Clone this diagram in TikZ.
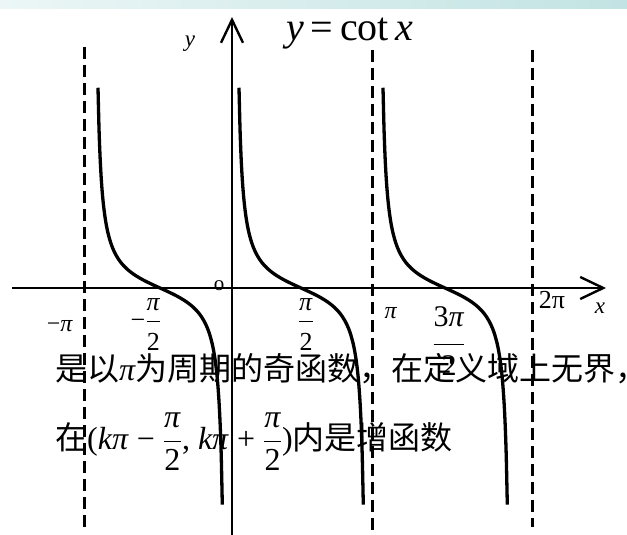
\RequirePackage{fix-cm}
\documentclass[tikz,border=0pt]{standalone}
\usepackage{amsmath}
\usepackage{fontspec}
\setmainfont{Liberation Serif}
\newfontfamily\cjk{Noto Sans CJK SC}
\usetikzlibrary{arrows.meta}
\definecolor{barleft}{RGB}{236,246,246}
\definecolor{barright}{RGB}{194,227,227}
\newcommand\fs[1]{\fontsize{#1}{#1}\selectfont}
% fraction: raise of numerator, strut of denominator, numerator, denominator
\newcommand\pifrac[4]{$\dfrac{\text{\raisebox{#1}{#3}}}{\text{\rule{0pt}{#2}#4}}$}
\begin{document}
\begin{tikzpicture}[x=1pt, y=-1pt]
    \tikzset{
        axis/.style={line width=2.4pt, -{Straight Barb[length=23pt, width=22pt]}},
        asymptote/.style={line width=3pt, dash pattern=on 12pt off 6pt},
        branch/.style={line width=3.3pt, line join=round},
        lbl/.style={inner sep=0pt}
    }
    \useasboundingbox (0,0) rectangle (627,535);

    % band across the top
    \shade[left color=barleft, right color=barright] (0,0) rectangle (627,9);

    % axes
    \coordinate (xstart) at (12,288);
    \coordinate (xend) at (606,288);
    \coordinate (ystart) at (232,535);
    \coordinate (yend) at (232,17);
    \draw[axis] (xstart) -- (xend);
    \draw[axis] (ystart) -- (yend);

    % asymptotes at -pi, pi, 2pi
    \foreach \name/\px/\top/\bot in {mpi/84/47/527, pi/372/50/530, tpi/532/50/527} {
        \coordinate (\name top) at (\px,\top);
        \coordinate (\name bot) at (\px,\bot);
        \draw[asymptote] (\name top) -- (\name bot);
    }

    % three branches of the curve
    \foreach \c in {160,301,445} {
        \draw[branch] plot[domain=-62:62.3, samples=120, smooth] ({\c+\x},{288+19*tan(deg(\x/42))});
    }

    % labels
    \node[lbl, font=\fs{40}, anchor=base] (title) at (350,41) {\textit{y}\,=\,cot\,\textit{x}};
    \node[lbl, font=\fs{23}, anchor=base] (ylbl) at (190,47) {\textit{y}};
    \node[lbl, font=\fs{23}, anchor=base] (xlbl) at (600,313) {\textit{x}};
    \node[lbl, font=\fs{21}, anchor=base] (origin) at (219,290) {o};
    \node[lbl, font=\fs{24}, anchor=base] (mpilbl) at (60,331) {−\textit{π}};
    \node[lbl, font=\fs{26}, anchor=base] (mhalfpi) at (146,328) {−\pifrac{0pt}{26pt}{\textit{π}}{2}};
    \node[lbl, font=\fs{26}, anchor=base] (halfpi) at (306,328) {\pifrac{0pt}{26pt}{\textit{π}}{2}};
    \node[lbl, font=\fs{24}, anchor=base] (pilbl) at (391,318) {\textit{π}};
    \node[lbl, font=\fs{30}, anchor=base] (threehalfpi) at (449,352) {\pifrac{5pt}{28pt}{3\textit{π}}{2}};
    \node[lbl, font=\fs{26}, anchor=base] (twopi) at (552,308) {2π};

    % remarks
    \node[lbl, font=\fs{32}, anchor=base west] (line1) at (55,380)
        {{\cjk 是以}\textit{π}{\cjk 为周期的奇函数，在定义域上无界，}};
    \node[lbl, font=\fs{32}, anchor=base west] (line2) at (55,449)
        {{\cjk 在}(\textit{kπ} − \pifrac{0pt}{0pt}{\textit{π}}{2}, \textit{kπ} + \pifrac{0pt}{0pt}{\textit{π}}{2}){\cjk 内是增函数}};
\end{tikzpicture}
\end{document}
